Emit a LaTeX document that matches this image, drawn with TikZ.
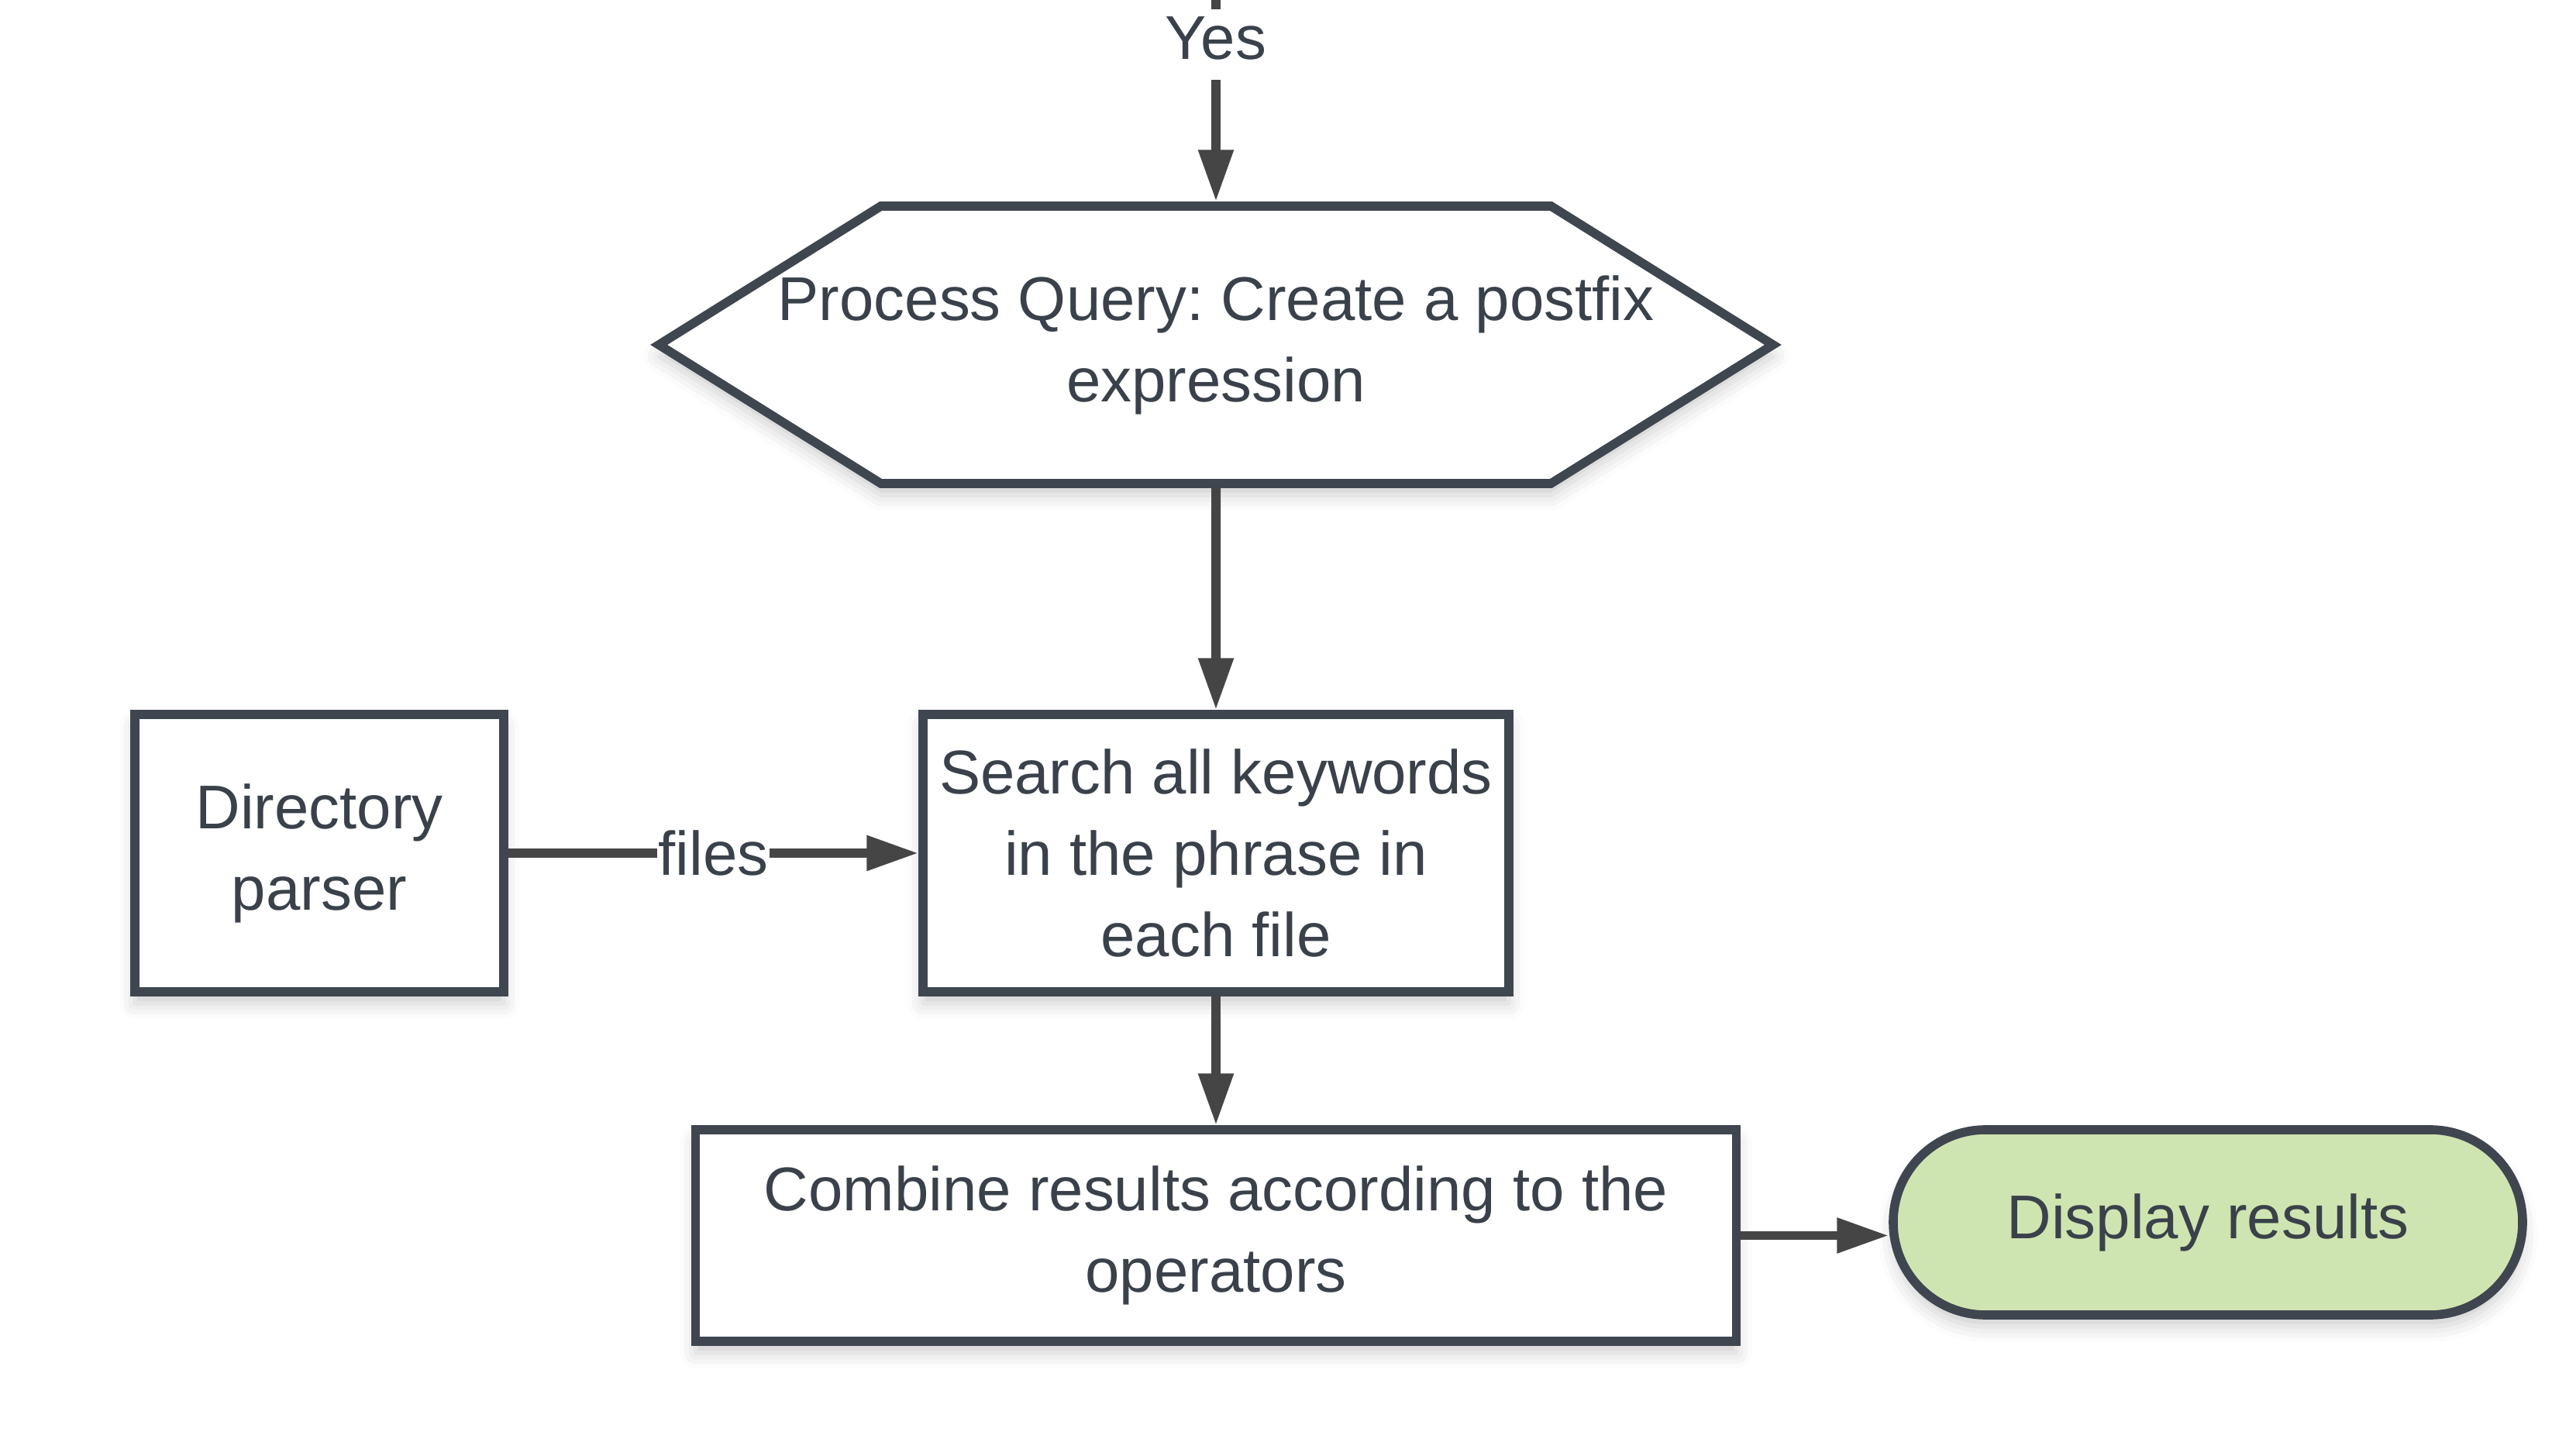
\documentclass[tikz,border=0pt]{standalone}
\usepackage{fontspec}
\setmainfont{Liberation Sans}
\frenchspacing
\usetikzlibrary{arrows.meta,shapes.symbols,shadows.blur}

\definecolor{boxline}{HTML}{3F4650}
\definecolor{arrowgray}{HTML}{454545}
\definecolor{textgray}{HTML}{3A414A}
\definecolor{greenfill}{HTML}{CFE5B1}
\newcommand{\flowfont}{\fontsize{22.7pt}{29.9pt}\selectfont}

\tikzset{
  flowbox/.style={draw=boxline, line width=3.3pt, fill=white, align=center,
    text=textgray, font=\flowfont, inner sep=0pt,
    blur shadow={shadow xshift=0pt, shadow yshift=-0.15cm,
      shadow blur radius=0.2cm, shadow opacity=20}},
  flowline/.style={draw=arrowgray, line width=3.4pt},
  flowarrow/.style={flowline, -{Triangle[length=19pt,width=12.2pt]}},
  flowlabel/.style={fill=white, text=textgray, font=\flowfont, inner sep=0.5pt}
}

\begin{document}
\begin{tikzpicture}
\useasboundingbox (0,0) rectangle (33.24,18.70);

\coordinate (yestop) at (15.69,18.70);
\node[flowlabel, text height=0.57cm, text depth=0.19cm, inner ysep=0.07cm] (yes) at (15.69,18.125) {Yes};

% query (text runs over the points)
\node[flowbox, signal, signal to=west and east, signal pointer angle=64,
  inner xsep=-1.33cm, minimum height=3.58cm] (query) at (15.69,14.25)
  {Process Query: Create a postfix\\expression};

% left
\node[flowbox, minimum width=4.76cm, minimum height=3.58cm] (dir) at (4.12,7.69)
  {Directory\\parser};
\node[flowbox, minimum width=7.56cm, minimum height=3.58cm] (search) at (15.69,7.69)
  {Search all keywords\\in the phrase in\\each file};

% bottom
\node[flowbox, minimum width=13.43cm, minimum height=2.73cm] (combine) at (15.69,2.755)
  {Combine results according to the\\operators};
\node[flowbox, fill=greenfill, rounded corners=1.19cm, minimum width=8.12cm,
  minimum height=2.39cm] (display) at (28.49,2.925) {Display results};

\draw[flowline] (yestop) -- (yes);
\draw[flowarrow] (yes) -- (query);
\draw[flowarrow] (query) -- (search);
\draw[flowarrow] (dir) -- node[flowlabel] {files} (search);
\draw[flowarrow] (search) -- (combine);
\draw[flowarrow] (combine.east) -- (display.west |- combine.east);
\end{tikzpicture}
\end{document}
